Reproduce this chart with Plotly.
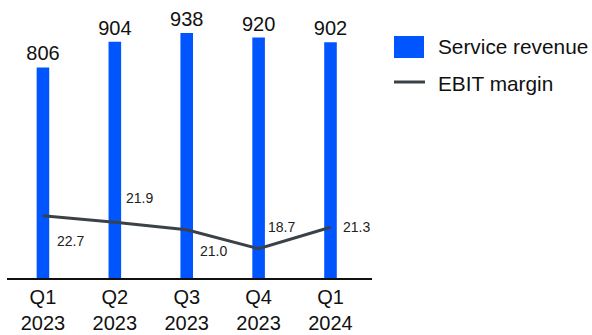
import plotly.graph_objects as go

categories = ["Q1<br>2023", "Q2<br>2023", "Q3<br>2023", "Q4<br>2023", "Q1<br>2024"]
service_revenue = [806, 904, 938, 920, 902]
ebit_margin = [22.7, 21.9, 21.0, 18.7, 21.3]
ebit_labels = ["22.7", "21.9", "21.0", "18.7", "21.3"]

# label offsets (pixels) for the margin labels
label_dx = [28, 25, 27, 23, 26]
label_dy = [-25, 24, -21, 22, 0]

W, H = 592, 335
ML, MR, MT, MB = 7, 220, 0, 57
PW = W - ML - MR
PH = H - MT - MB

BLUE = "#0055FF"
GRAY = "#3B4247"
FONT = "Liberation Sans, Arial, sans-serif"


def px_x(p):
    return (p - ML) / PW


def px_y(p):
    return (H - MB - p) / PH


fig = go.Figure()
fig.add_trace(go.Bar(
    x=categories, y=service_revenue, width=0.175,
    marker=dict(color=BLUE, line=dict(width=0)),
    text=[str(v) for v in service_revenue], textposition="outside",
    constraintext="none", cliponaxis=False,
    textfont=dict(size=20, color="#111111", family=FONT),
    name="Service revenue", hoverinfo="skip",
))
fig.add_trace(go.Scatter(
    x=categories, y=ebit_margin, yaxis="y2", mode="lines",
    line=dict(color=GRAY, width=3), name="EBIT margin", hoverinfo="skip",
))

annotations = []
for c, v, t, dx, dy in zip(categories, ebit_margin, ebit_labels, label_dx, label_dy):
    annotations.append(dict(
        x=c, y=v, xref="x", yref="y2", text=t, showarrow=False,
        xshift=dx, yshift=dy, font=dict(size=14, color="#222222", family=FONT),
    ))

# custom legend
shapes = [
    dict(type="rect", xref="paper", yref="paper",
         x0=px_x(394), x1=px_x(424), y0=px_y(58), y1=px_y(36),
         fillcolor=BLUE, line=dict(width=0)),
    dict(type="line", xref="paper", yref="paper",
         x0=px_x(394), x1=px_x(425), y0=px_y(82), y1=px_y(82),
         line=dict(color=GRAY, width=3)),
]
annotations += [
    dict(x=px_x(436), y=px_y(47), xref="paper", yref="paper", text="Service revenue",
         showarrow=False, xanchor="left", yanchor="middle",
         font=dict(size=20.8, color="#111111", family=FONT)),
    dict(x=px_x(436), y=px_y(83), xref="paper", yref="paper", text="EBIT margin",
         showarrow=False, xanchor="left", yanchor="middle",
         font=dict(size=20.8, color="#111111", family=FONT)),
]

fig.update_layout(
    width=W, height=H,
    margin=dict(l=ML, r=MR, t=MT, b=MB, autoexpand=False),
    paper_bgcolor="white", plot_bgcolor="white",
    showlegend=False,
    font=dict(family=FONT, color="#111111"),
    xaxis=dict(showgrid=False, showline=True, linecolor="#111111", linewidth=1.5,
               ticks="", automargin=False,
               tickfont=dict(size=20, color="#111111", family=FONT)),
    yaxis=dict(range=[0, 1064], visible=False, showgrid=False, zeroline=False),
    yaxis2=dict(range=[15.16, 48.8], overlaying="y", visible=False,
                showgrid=False, zeroline=False),
    annotations=annotations, shapes=shapes,
)

fig.write_html("out.html")
